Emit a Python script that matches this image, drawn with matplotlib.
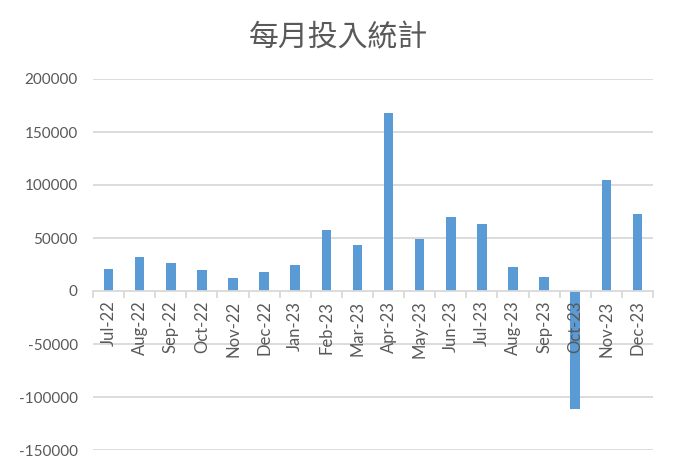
import numpy as np
import matplotlib
matplotlib.use("Agg")
import matplotlib.pyplot as plt

plt.rcParams['font.family'] = ['Noto Sans CJK TC', 'DejaVu Sans']

months = ["Jul-22", "Aug-22", "Sep-22", "Oct-22", "Nov-22", "Dec-22",
          "Jan-23", "Feb-23", "Mar-23", "Apr-23", "May-23", "Jun-23",
          "Jul-23", "Aug-23", "Sep-23", "Oct-23", "Nov-23", "Dec-23"]
amounts = [21000, 32000, 26500, 20000, 12500, 18000,
           24500, 57500, 43500, 168000, 49000, 70000,
           63000, 22500, 13000, -111000, 105000, 72500]
yticks = [-150000, -100000, -50000, 0, 50000, 100000, 150000, 200000]

grey = "#595959"
gridc = "#D9D9D9"

fig = plt.figure(figsize=(6.76, 4.73), dpi=100)
ax = fig.add_axes([93/676, 1-450/473, 560/676, 371/473])

x = np.arange(len(months))
ax.bar(x, amounts, width=0.31, color="#5B9BD5", zorder=1)
ax.set_axisbelow(False)  # tick labels drawn over the bars like excel

ax.set_xlim(-0.5, len(months)-0.5)
ax.set_ylim(-150000, 200000)
ax.set_yticks(yticks)
ax.set_yticklabels([str(v) for v in yticks], fontfamily="Lato", fontsize=11, color=grey)
ax.tick_params(axis='y', length=0, pad=11)
for v in yticks:
    if v != 0:
        ax.axhline(v, color=gridc, lw=1.3, zorder=0.5)

for s in ['top', 'right', 'left']:
    ax.spines[s].set_visible(False)
ax.spines['bottom'].set_position(('data', 0))
ax.spines['bottom'].set_color(gridc)
ax.spines['bottom'].set_linewidth(1.3)
ax.spines['bottom'].set_zorder(2.2)

ax.set_xticks(x)
ax.set_xticklabels(months, rotation=90, fontfamily="Lato", fontsize=12,
                   color=grey, va='top', ha='center')
ax.tick_params(axis='x', which='major', length=0, pad=7)
ax.set_xticks(np.arange(len(months)+1) - 0.5, minor=True)
ax.tick_params(axis='x', which='minor', length=5, color=gridc, width=1.3)

fig.text(0.5, 1-38/473, "每月投入統計", ha='center', va='center',
         fontsize=21.5, color=grey)

fig.savefig("out.png", dpi=100, facecolor="white")
